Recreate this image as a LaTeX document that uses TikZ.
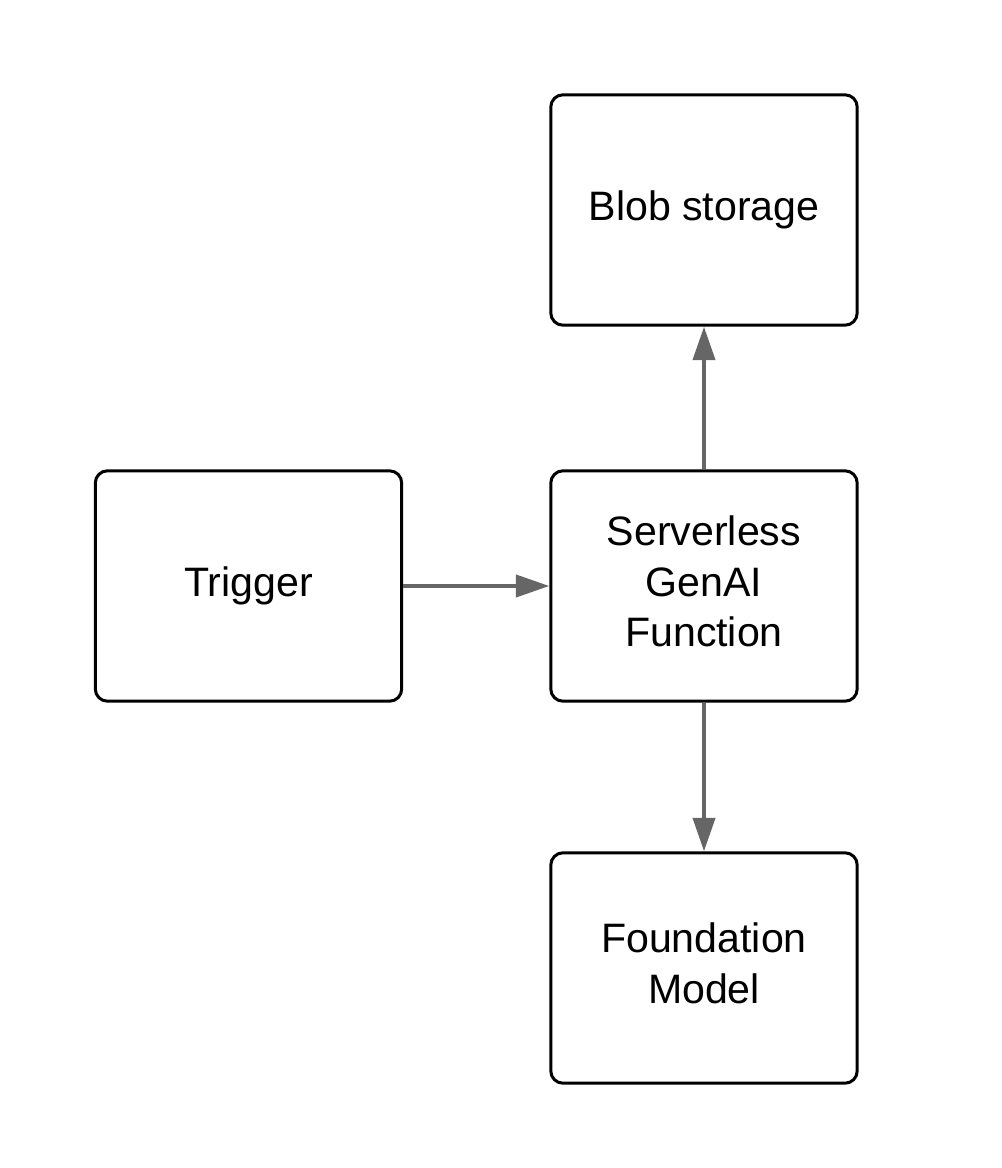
\documentclass[tikz,border=0pt]{standalone}
\usepackage{fontspec}
\setmainfont{Liberation Sans}
\usetikzlibrary{arrows.meta}
\newcommand{\lines}[1]{\raisebox{0.14cm}{\begin{tabular}{@{}c@{}}#1\end{tabular}}}
\begin{document}
\begin{tikzpicture}[x=0.02cm, y=-0.02cm,
  box/.style={draw, line width=1.7pt, rounded corners=7pt, minimum width=6.13cm,
    minimum height=4.61cm, align=center, font=\fontsize{23.4}{28.5}\selectfont},
  link/.style={draw=black!60, line width=2.3pt, -{Triangle[length=19pt, width=12.5pt]}}]
\useasboundingbox (0, 0) rectangle (1001, 1168);
\node[box] (blob) at (704, 210) {Blob storage};
\node[box] (trigger) at (248.5, 586) {Trigger};
\node[box] (func) at (704, 586) {\lines{Serverless\\GenAI\\Function}};
\node[box] (model) at (704, 968) {\lines{Foundation\\Model}};

\draw[link] (trigger) -- (func);
\draw[link] (func) -- (blob);
\draw[link] (func) -- (model);
\end{tikzpicture}
\end{document}
